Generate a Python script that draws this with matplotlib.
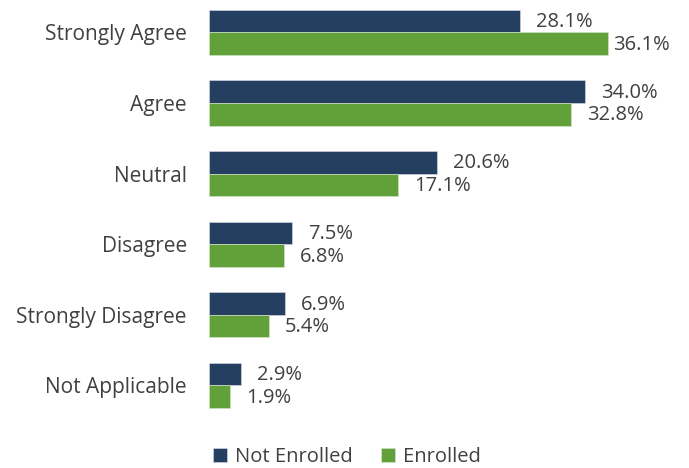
import numpy as np
import matplotlib.pyplot as plt

plt.switch_backend('Agg')

categories = ['Strongly Agree', 'Agree', 'Neutral', 'Disagree',
              'Strongly Disagree', 'Not Applicable']
not_enrolled = [28.1, 34.0, 20.6, 7.5, 6.9, 2.9]
enrolled = [36.1, 32.8, 17.1, 6.8, 5.4, 1.9]

navy = '#243F60'
green = '#62A03A'
text_color = '#404040'

plt.rcParams['font.family'] = ['Open Sans', 'DejaVu Sans']

fig = plt.figure(figsize=(6.89, 4.68), dpi=100)
ax = fig.add_axes([209 / 689, 48 / 468, 442 / 689, 420 / 468])

y = np.arange(len(categories))
h = 0.32
bars_ne = ax.barh(y - h / 2, not_enrolled, height=h, color=navy,
                  edgecolor='#d8dde5', linewidth=0.4, label='Not Enrolled')
bars_en = ax.barh(y + h / 2, enrolled, height=h, color=green,
                  edgecolor='#d8e6cf', linewidth=0.4, label='Enrolled')

ax.set_xlim(0, 40)
ax.set_ylim(5.49, -0.46)

# labels sit 16px right of the bar, pulled in near the right edge
max_start = 0.89 * fig.bbox.width
for bars, vals in ((bars_ne, not_enrolled), (bars_en, enrolled)):
    for b, v in zip(bars, vals):
        x_end = ax.transData.transform((v, 0))[0]
        off = min(16, max_start - x_end)
        ax.annotate(f'{v:.1f}%', (v, b.get_y() + b.get_height() / 2),
                    xytext=(off, -1), textcoords='offset pixels',
                    va='center', ha='left', fontsize=14.5, color=text_color)

ax.set_yticks(y)
ax.set_yticklabels(categories, fontsize=15, color=text_color)
ax.tick_params(axis='y', length=0, pad=16)
ax.set_xticks([])
for s in ax.spines.values():
    s.set_visible(False)

fig.legend(loc='lower left', bbox_to_anchor=(195 / 689, -0.036), ncol=2,
           frameon=False, fontsize=14.5, labelcolor=text_color,
           handlelength=0.7, handleheight=0.7, handletextpad=0.4,
           columnspacing=1.4)

fig.savefig('out.png', dpi=100)
